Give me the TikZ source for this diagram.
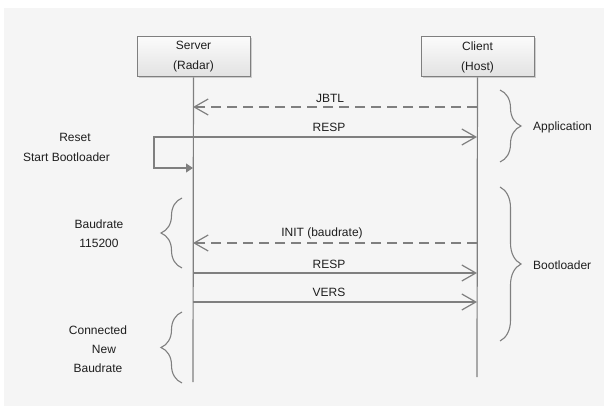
\documentclass[tikz,border=0pt]{standalone}
\usepackage{fontspec}
\setmainfont{Liberation Sans}
\usetikzlibrary{arrows.meta,decorations.pathreplacing,shadows}
\definecolor{seqLine}{HTML}{7F7F7F}
\definecolor{seqText}{HTML}{1E1E1E}
\definecolor{seqBack}{HTML}{F5F5F5}
\definecolor{seqTop}{HTML}{FBFBFB}
\definecolor{seqBottom}{HTML}{E2E2E2}
\tikzset{
  actor/.style={draw=seqLine, line width=1pt, top color=seqTop, bottom color=seqBottom,
              minimum width=113pt, minimum height=40pt, align=center, inner sep=0pt,
              font=\fontsize{12}{20}\selectfont, text=seqText,
              drop shadow={shadow xshift=1.5pt, shadow yshift=-1.5pt, fill=black!35, opacity=.5}},
  lbl/.style={font=\fontsize{12}{19}\selectfont, text=seqText, inner sep=0pt, align=center},
  life/.style={draw=seqLine, line width=1.2pt},
  msg/.style={-{Straight Barb[length=14pt,width=16pt]}, draw=seqLine, line width=1.2pt},
  dmsg/.style={msg, dash pattern=on 10pt off 6pt},
  selfmsg/.style={-{Triangle[length=7pt,width=9pt]}, draw=seqLine, line width=1.2pt},
  brc/.style={draw=seqLine, line width=1.1pt, decorate,
              decoration={brace, amplitude=21pt, aspect=0.5}},
}
\begin{document}
\begin{tikzpicture}[x=1pt,y=-1pt]
        \useasboundingbox (0,0) rectangle (604,406);
        \fill[seqBack] (4,8) rectangle (604,406);
        % lifelines
        \node[actor] (server) at (193.5,57){Server\\(Radar)};
        \node[actor] (client) at (477.5,57){Client\\(Host)};
        \coordinate (server-end) at (193,382);
        \coordinate (client-end) at (477,377);
        \draw[life](server)--(server-end);
        \draw[life](client)--(client-end);
        % message points
        \coordinate (s-jbtl) at (193,107);  \coordinate (c-jbtl) at (477,107);
        \coordinate (s-resp) at (193,137);  \coordinate (c-resp) at (477,137);
        \coordinate (s-boot) at (193,168);
        \coordinate (s-init) at (193,243);  \coordinate (c-init) at (477,243);
        \coordinate (s-resp2) at (193,273); \coordinate (c-resp2) at (477,273);
        \coordinate (s-vers) at (193,302);  \coordinate (c-vers) at (477,302);
        % messages
        \node[lbl] (jbtl) at (330,98){JBTL};
        \node[lbl] (resp) at (329,127){RESP};
        \node[lbl] (init) at (322,233){INIT (baudrate)};
        \node[lbl] (resp2) at (329,264){RESP};
        \node[lbl] (vers) at (329,292){VERS};
        \draw[dmsg](c-jbtl)--(s-jbtl);
        \draw[msg](s-resp)--(c-resp);
        \draw[selfmsg](s-resp)--++(-39,0)|-(s-boot);
        \draw[dmsg](c-init)--(s-init);
        \draw[msg](s-resp2)--(c-resp2);
        \draw[msg](s-vers)--(c-vers);
        % phases
        \coordinate (app-top) at (500,90);   \coordinate (app-bot) at (500,162);
        \coordinate (bl-top) at (500,187);   \coordinate (bl-bot) at (500,341);
        \coordinate (baud-top) at (182,198); \coordinate (baud-bot) at (182,268);
        \coordinate (conn-top) at (182,312); \coordinate (conn-bot) at (182,383);
        \draw[brc](app-top)--(app-bot);
        \draw[brc](bl-top)--(bl-bot);
        \draw[brc](baud-bot)--(baud-top);
        \draw[brc](conn-bot)--(conn-top);
        \node[lbl,anchor=west] (app) at (533,127){Application};
        \node[lbl,anchor=west] (bl) at (533,265){Bootloader};
        \node[lbl] (reset) at (75,137){Reset};
        \node[lbl] (startbl) at (66.5,157){Start Bootloader};
        \node[lbl] (baud) at (99,234){Baudrate\\115200};
        \node[lbl] (conn) at (98,349.5){Connected\\\hspace*{12pt}New\\Baudrate};
      \end{tikzpicture}
\end{document}
